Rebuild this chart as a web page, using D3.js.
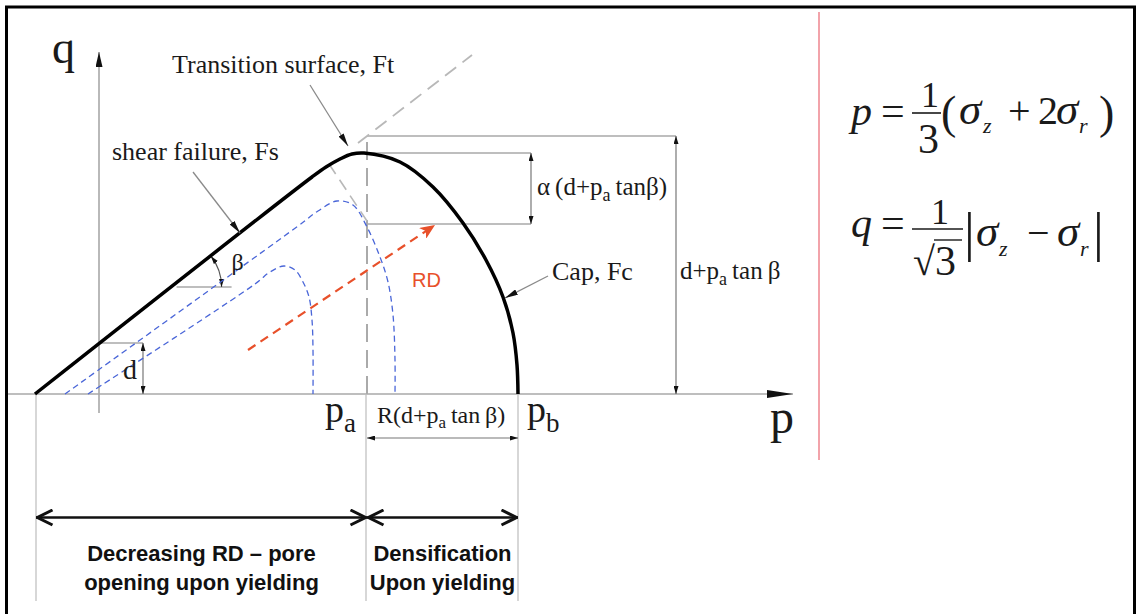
<!DOCTYPE html>
<html>
<head>
<meta charset="utf-8">
<script src="https://cdn.jsdelivr.net/npm/d3@7"></script>
<style>
  html, body { margin: 0; padding: 0; background: #fff; }
  svg { display: block; background: #fff; }
  .serif { font-family: "Liberation Serif", "Times New Roman", serif; fill: #1a1a1a; }
  .sans { font-family: "Liberation Sans", Arial, sans-serif; fill: #111; }
</style>
</head>
<body>
<svg id="chart" width="1136" height="614" viewBox="0 0 1136 614"></svg>
<script>
// surfaces in (p, q) units
const yieldSurface = [[-64, 0], [213, 217], [227, 227], [241, 235], [253, 240], [265, 241],
  [301, 232], [334, 207], [364, 171], [387, 134], [404, 97], [414, 61], [418, 29], [419, 0]];
const surfaceLarge = [[-34, 0], [199, 168], [219, 183], [238, 193], [254, 189], [268, 167],
  [281, 137], [289, 112], [294, 79], [296, 34], [296, 0]];
const surfaceSmall = [[-11, 0], [156, 110], [171, 122], [185, 128], [196, 124], [204, 112],
  [210, 97], [213, 74], [214, 44], [214, 0]];
const rdArrow = [[149, 44], [336, 169]];
const dpExtension = [[259, 251], [373, 339]];
const transitionRadius = [[230, 230], [268, 173]];

// key values
const pStart = -63, pA = 268, pB = 419;
const dValue = 51, qTop = 258, qApex = 241, qAlphaLow = 170;
const betaQ = 107;
const regionBounds = [[pStart, pA], [pA, pB]];
const regionLabels = [["Decreasing RD \u2013 pore", "opening upon yielding"], ["Densification", "Upon yielding"]];

const x = d3.scaleLinear().domain([0, pA]).range([99, 367]);
const y = d3.scaleLinear().domain([0, qTop]).range([394, 136]);

const svg = d3.select("#chart");
const defs = svg.append("defs");

function marker(id, len, wid, path, fill, stroke, sw) {
  defs.append("marker")
    .attr("id", id)
    .attr("viewBox", `0 0 ${len} ${wid}`)
    .attr("refX", len).attr("refY", wid / 2)
    .attr("markerWidth", len).attr("markerHeight", wid)
    .attr("markerUnits", "userSpaceOnUse")
    .attr("orient", "auto-start-reverse")
    .append("path")
    .attr("d", path)
    .attr("fill", fill)
    .attr("stroke", stroke || "none")
    .attr("stroke-width", sw || 0);
}
marker("dim", 8, 5, "M0,0 L8,2.5 L0,5 Z", "#111");
marker("lead", 13, 6, "M0,0 L13,3 L0,6 Z", "#111");
marker("axisQ", 15, 7, "M0,0 L15,3.5 L0,7 Z", "#111");
marker("axisP", 26, 8, "M0,0 L26,4 L0,8 Z", "#111");
marker("red", 15, 13, "M0,0 L15,6.5 L0,13 L4,6.5 Z", "#e8502a");
marker("chev", 18, 18, "M1.5,1.5 L16.5,9 L1.5,16.5", "none", "#111", 3);

const line = d3.line().x((d) => x(d[0])).y((d) => y(d[1]));
const smooth = d3.line().x((d) => x(d[0])).y((d) => y(d[1])).curve(d3.curveCatmullRom.alpha(0.5));

function seg(p1, q1, p2, q2, color, width) {
  return svg.append("line")
    .attr("x1", x(p1)).attr("y1", y(q1))
    .attr("x2", x(p2)).attr("y2", y(q2))
    .attr("stroke", color).attr("stroke-width", width);
}

// frame and divider
svg.append("path").attr("d", "M6.5,614 V7 H1134.5 V614")
  .attr("fill", "none").attr("stroke", "#000").attr("stroke-width", 3);
svg.append("line").attr("x1", 819).attr("y1", 12).attr("x2", 819).attr("y2", 460)
  .attr("stroke", "#f2a3aa").attr("stroke-width", 2);

// axes
seg(-91, 0, 694, 0, "#a8a8a8", 1.6).attr("marker-end", "url(#axisP)");
seg(0, -19, 0, 342, "#a8a8a8", 1.6).attr("marker-end", "url(#axisQ)");

// extension lines below the p axis
[pStart, pA - 1, pB].forEach((p) => seg(p, 0, p, -207, "#bdbdbd", 1.2));

// dimension lines
seg(pA, qTop, 577, qTop, "#a8a8a8", 1.4);
seg(577, qTop, 577, 0, "#777", 1.2).attr("marker-start", "url(#dim)").attr("marker-end", "url(#dim)");
seg(pA, qApex, 432, qApex, "#a8a8a8", 1.4);
seg(pA, qAlphaLow, 432, qAlphaLow, "#a8a8a8", 1.4);
seg(432, qApex, 432, qAlphaLow, "#777", 1.2).attr("marker-start", "url(#dim)").attr("marker-end", "url(#dim)");
seg(0, dValue, 44, dValue, "#a8a8a8", 1.4);
seg(44, dValue, 44, 0, "#777", 1.2).attr("marker-start", "url(#dim)").attr("marker-end", "url(#dim)");
seg(pA, -44, pB, -44, "#777", 1.2).attr("marker-start", "url(#dim)").attr("marker-end", "url(#dim)");

// beta angle
const slope = yieldSurface[1][1] / (yieldSurface[1][0] - yieldSurface[0][0]);
const beta = Math.atan(slope);
const pBeta = yieldSurface[0][0] + betaQ / slope;
seg(pBeta + 5, betaQ, pBeta + 60, betaQ, "#a8a8a8", 1.4);
const arcPath = d3.path();
arcPath.arc(x(pBeta), y(betaQ), 50, -beta, 0, false);
svg.append("path").attr("d", arcPath.toString())
  .attr("fill", "none").attr("stroke", "#555").attr("stroke-width", 1.2)
  .attr("marker-start", "url(#dim)").attr("marker-end", "url(#dim)");

// gray dashed construction lines
seg(pA, 0, pA, qTop, "#aaaaaa", 2).attr("stroke-dasharray", "18,8");
svg.append("path").attr("d", line(dpExtension)).attr("fill", "none")
  .attr("stroke", "#b8b8b8").attr("stroke-width", 1.8).attr("stroke-dasharray", "14,8");
svg.append("path").attr("d", line(transitionRadius)).attr("fill", "none")
  .attr("stroke", "#b8b8b8").attr("stroke-width", 1.6).attr("stroke-dasharray", "12,7");

// inner yield surfaces
[surfaceLarge, surfaceSmall].forEach((s) => {
  svg.append("path").attr("d", smooth(s)).attr("fill", "none")
    .attr("stroke", "#4a66d8").attr("stroke-width", 1.3).attr("stroke-dasharray", "6,4");
});

// RD arrow
svg.append("path").attr("d", line(rdArrow)).attr("fill", "none")
  .attr("stroke", "#e8502a").attr("stroke-width", 2.2).attr("stroke-dasharray", "9,6")
  .attr("marker-end", "url(#red)");

// main yield surface
svg.append("path").attr("d", smooth(yieldSurface)).attr("fill", "none")
  .attr("stroke", "#000").attr("stroke-width", 3.5).attr("stroke-linejoin", "round");

// leaders
seg(211, 309, 249, 248, "#8a8a8a", 1.3).attr("marker-end", "url(#lead)");
seg(94, 222, 141, 161, "#8a8a8a", 1.3).attr("marker-end", "url(#lead)");
seg(449, 118, 406, 96, "#8a8a8a", 1.3).attr("marker-end", "url(#lead)");

// labels
function label(p, q, size, parts, cls) {
  const t = svg.append("text").attr("class", cls || "serif")
    .attr("x", x(p)).attr("y", y(q)).attr("font-size", size);
  parts.forEach((part) => {
    const s = t.append("tspan").text(part.t);
    if (part.sub) s.attr("font-size", part.size).attr("dy", part.dy);
    if (part.back) s.attr("dy", -part.back);
  });
  return t;
}
label(-47, 331, 46, [{ t: "q" }]);
label(671, -39, 48, [{ t: "p" }]);
label(73, 321, 26, [{ t: "Transition surface, Ft" }]);
label(13, 234, 26, [{ t: "shear failure, Fs" }]);
label(453, 114, 26, [{ t: "Cap, Fc" }]);
label(24, 15, 28, [{ t: "d" }]);
label(pBeta + 60, 124, 24, [{ t: "\u03b2" }]);
label(581, 115, 25, [{ t: "d+p" }, { t: "a", sub: true, size: 18, dy: 6 }, { t: "\u2009tan\u2009\u03b2", back: 6 }]);
label(438, 199, 25, [{ t: "\u03b1\u2009(d+p" }, { t: "a", sub: true, size: 18, dy: 6 }, { t: "\u2009tan\u03b2)", back: 6 }]);
label(278, -29, 24, [{ t: "R(d+p" }, { t: "a", sub: true, size: 17, dy: 5 }, { t: "\u2009tan\u2009\u03b2)", back: 5 }]);
label(226, -28, 38, [{ t: "p" }, { t: "a", sub: true, size: 27, dy: 10 }]);
label(428, -28, 38, [{ t: "p" }, { t: "b", sub: true, size: 27, dy: 10 }]);
svg.append("text").attr("class", "sans").attr("x", x(313)).attr("y", y(107))
  .attr("font-size", 20).style("fill", "#e8502a").text("RD");

// region arrows and captions
regionBounds.forEach((b, i) => {
  seg(b[0], -123.5, b[1], -123.5, "#111", 2.5)
    .attr("marker-start", "url(#chev)").attr("marker-end", "url(#chev)");
  regionLabels[i].forEach((txt, j) => {
    svg.append("text").attr("class", "sans")
      .attr("x", x((b[0] + b[1]) / 2)).attr("y", 561 + j * 29)
      .attr("text-anchor", "middle").attr("font-size", 22).attr("font-weight", "bold")
      .text(txt);
  });
});

// formulas
const f = svg.append("g").attr("class", "serif");
function ft(xp, yp, size, txt, italic) {
  const t = f.append("text").attr("x", xp).attr("y", yp).attr("font-size", size).text(txt);
  if (italic) t.attr("font-style", "italic");
  return t;
}
ft(851, 125, 42, "p", true);
ft(881, 125, 42, "=");
ft(921, 107, 36, "1");
f.append("line").attr("x1", 912).attr("x2", 941).attr("y1", 113).attr("y2", 113).attr("stroke", "#1a1a1a").attr("stroke-width", 1.6);
ft(918, 153, 42, "3");
ft(941, 128, 46, "(");
ft(959, 124, 45, "\u03c3", true);
ft(983, 133, 22, "z", true);
ft(1008, 124, 40, "+");
ft(1038, 124, 40, "2");
ft(1056, 124, 45, "\u03c3", true);
ft(1079, 133, 22, "r", true);
ft(1099, 128, 46, ")");

ft(851, 237, 42, "q", true);
ft(881, 237, 42, "=");
ft(931, 224, 36, "1");
f.append("line").attr("x1", 912).attr("x2", 963).attr("y1", 229).attr("y2", 229).attr("stroke", "#1a1a1a").attr("stroke-width", 1.6);
ft(913, 275, 40, "\u221a");
f.append("line").attr("x1", 934).attr("x2", 962).attr("y1", 240).attr("y2", 240).attr("stroke", "#1a1a1a").attr("stroke-width", 1.4);
ft(935, 275, 42, "3");
ft(964, 250, 54, "|");
ft(976, 246, 45, "\u03c3", true);
ft(999, 256, 22, "z", true);
ft(1027, 246, 40, "\u2212");
ft(1057, 246, 45, "\u03c3", true);
ft(1080, 256, 22, "r", true);
ft(1093, 250, 54, "|");
</script>
</body>
</html>
